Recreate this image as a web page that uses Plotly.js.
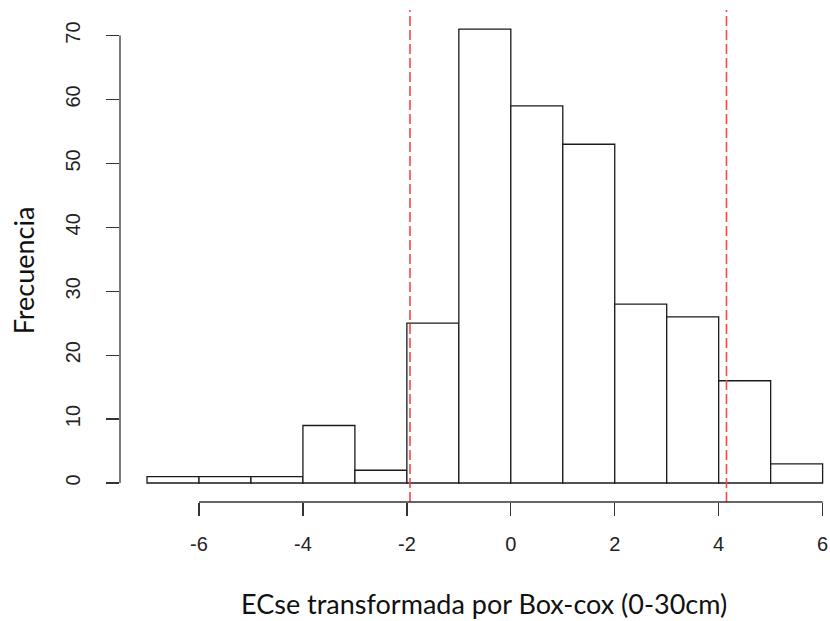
<!DOCTYPE html>
<html>
<head>
<meta charset="utf-8">
<script src="https://cdn.plot.ly/plotly-3.0.1.min.js"></script>
<style>html,body{margin:0;padding:0;background:#fff;}#chart{width:830px;height:621px;}</style>
</head>
<body>
<div id="chart"></div>
<script>
// Histogram bins (left edges, width 1) and counts
var binStarts = [-7, -6, -5, -4, -3, -2, -1, 0, 1, 2, 3, 4, 5];
var binWidth = 1;
var counts = [1, 1, 1, 9, 2, 25, 71, 59, 53, 28, 26, 16, 3];
// Vertical reference lines (red dashed)
var cutoffs = [-1.94, 4.15];
// Axis ticks
var xTicks = [-6, -4, -2, 0, 2, 4, 6];
var yTicks = [0, 10, 20, 30, 40, 50, 60, 70];
var xTitle = "ECse transformada por Box-cox (0-30cm)";
var yTitle = "Frecuencia";

var centers = binStarts.map(function (s) { return s + binWidth / 2; });

var trace = {
  type: 'bar',
  x: centers,
  y: counts,
  width: binStarts.map(function () { return binWidth; }),
  marker: { color: '#ffffff', line: { color: '#1a1a1a', width: 1.3 } },
  hoverinfo: 'x+y'
};

var shapes = [];
cutoffs.forEach(function (c) {
  shapes.push({
    type: 'line', xref: 'x', yref: 'paper', x0: c, x1: c, y0: 0, y1: 1,
    line: { color: '#ff4545', width: 1.6, dash: '10px,4px' }
  });
});
// R-style axis lines spanning first to last tick
shapes.push({
  type: 'line', xref: 'x', yref: 'paper',
  x0: xTicks[0], x1: xTicks[xTicks.length - 1], y0: 0, y1: 0,
  line: { color: '#333', width: 1.3 }
});
shapes.push({
  type: 'line', xref: 'paper', yref: 'y',
  x0: 0, x1: 0, y0: yTicks[0], y1: yTicks[yTicks.length - 1],
  line: { color: '#333', width: 1.3 }
});

var tickFont = { family: 'Liberation Sans, Arial, sans-serif', size: 20, color: '#222' };
var titleFont = { family: 'Lato, Carlito, Calibri, sans-serif', size: 27, color: '#111' };

var layout = {
  width: 830, height: 621,
  margin: { l: 120, r: 0, t: 10, b: 119, pad: 0 },
  paper_bgcolor: '#fff', plot_bgcolor: '#fff',
  showlegend: false,
  bargap: 0,
  xaxis: {
    range: [-7.52, 6.142],
    tickmode: 'array', tickvals: xTicks, ticktext: xTicks.map(String),
    ticks: 'outside', ticklen: 13, tickwidth: 1.3, tickcolor: '#333',
    ticklabelstandoff: 11,
    showline: false, showgrid: false, zeroline: false,
    tickfont: tickFont
  },
  yaxis: {
    range: [-2.97, 74.0],
    tickmode: 'array', tickvals: yTicks, ticktext: yTicks.map(String),
    ticks: 'outside', ticklen: 13, tickwidth: 1.3, tickcolor: '#333',
    tickangle: -90,
    ticklabelstandoff: 18,
    showline: false, showgrid: false, zeroline: false,
    tickfont: tickFont
  },
  shapes: shapes,
  annotations: [
    {
      text: xTitle, xref: 'paper', yref: 'paper', x: 0.512, y: -0.206,
      xanchor: 'center', yanchor: 'middle', showarrow: false, font: titleFont
    },
    {
      text: yTitle, xref: 'paper', yref: 'paper', x: -0.1366, y: 0.471,
      xanchor: 'center', yanchor: 'middle', textangle: -90, showarrow: false, font: titleFont
    }
  ]
};

Plotly.newPlot('chart', [trace], layout, { displayModeBar: false, staticPlot: true });
</script>
</body>
</html>
